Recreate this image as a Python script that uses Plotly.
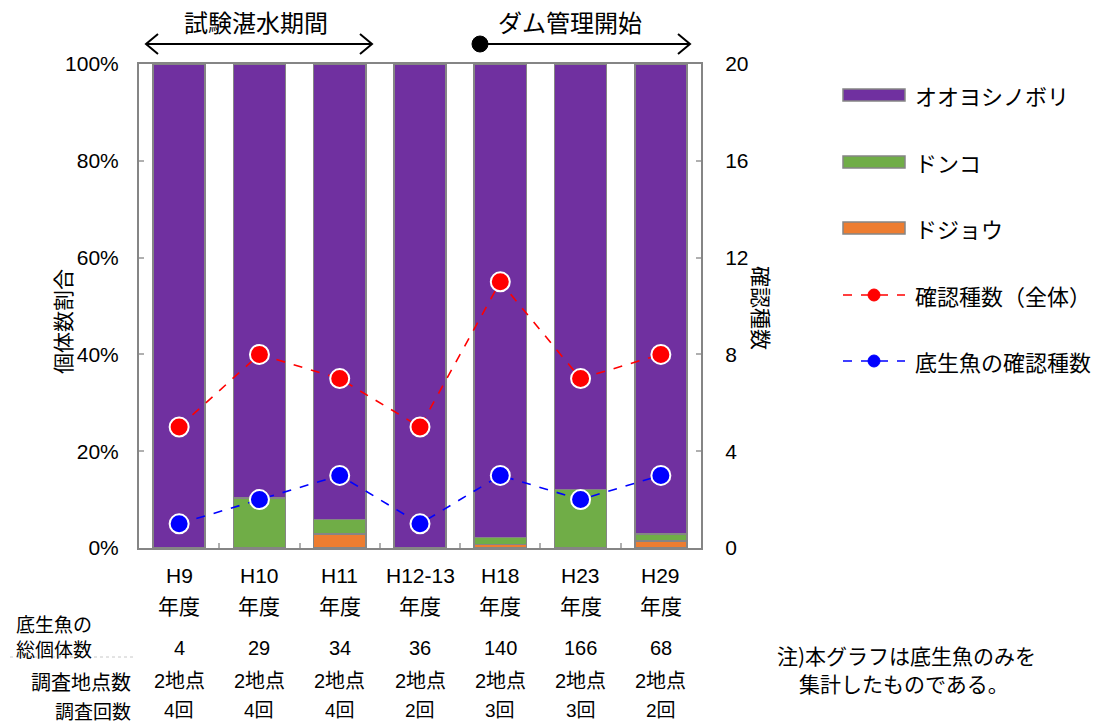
import plotly.graph_objects as go

# Survey years and bottom-fish composition (percent of individuals)
years = ["H9", "H10", "H11", "H12-13", "H18", "H23", "H29"]
dojou = [0.0, 0.0, 2.94, 0.0, 0.71, 0.0, 1.47]          # ドジョウ
donko = [0.0, 10.34, 2.94, 0.0, 1.43, 12.05, 1.47]      # ドンコ
ooyoshinobori = [100.0, 89.66, 94.12, 100.0, 97.86, 87.95, 97.06]  # オオヨシノボリ

# Number of species confirmed
species_all = [5, 8, 7, 5, 11, 7, 8]
species_bottom = [1, 2, 3, 1, 3, 2, 3]

# Table below the chart
total_counts = ["4", "29", "34", "36", "140", "166", "68"]
sites = ["2地点"] * 7
surveys = ["4回", "4回", "4回", "2回", "3回", "3回", "2回"]

legend_names = ["オオヨシノボリ", "ドンコ", "ドジョウ", "確認種数（全体）", "底生魚の確認種数"]

PURPLE = "#7030A0"
GREEN = "#70AD47"
ORANGE = "#ED7D31"
EDGE = "#858585"
NUM_FONT = "Liberation Sans Narrow, Liberation Sans, Noto Sans CJK JP"
JP_FONT = "Noto Sans CJK JP"

# Plot-area geometry in pixels (used to place the surrounding decorations)
W, H = 1110, 723
L, R, T, B = 139, 701, 64, 548


def px(x):
    return (x - L) / (R - L)


def py(y):
    return (B - y) / (B - T)


def label(x, y, text, size=20, family=JP_FONT, xanchor="center", xref="paper", angle=0):
    return dict(x=x, y=py(y), xref=xref, yref="paper", text=text, showarrow=False,
                xanchor=xanchor, yanchor="middle", textangle=angle,
                font=dict(family=family, size=size, color="black"))


fig = go.Figure()

for vals, color in [(dojou, ORANGE), (donko, GREEN), (ooyoshinobori, PURPLE)]:
    fig.add_trace(go.Bar(
        x=years, y=vals, marker=dict(color=color, line=dict(color=EDGE, width=1.5)),
        showlegend=False, hoverinfo="skip",
    ))

for vals, color in [(species_all, "#FF0000"), (species_bottom, "#0000FF")]:
    fig.add_trace(go.Scatter(
        x=years, y=vals, yaxis="y2", mode="lines+markers",
        line=dict(color=color, width=1.6, dash="dash"),
        marker=dict(color=color, size=19, line=dict(color="white", width=2)),
        showlegend=False, hoverinfo="skip",
    ))

annotations = []
shapes = []

# Category labels and the table rows beneath
for i, yr in enumerate(years):
    annotations.append(label(yr, 575, yr, size=21, family=NUM_FONT, xref="x"))
    annotations.append(label(yr, 605, "年度", size=21, xref="x"))
    annotations.append(label(yr, 648, total_counts[i], size=20, family=NUM_FONT, xref="x"))
    annotations.append(label(yr, 681, sites[i], size=20, family=NUM_FONT, xref="x"))
    annotations.append(label(yr, 710, surveys[i], size=19, family=NUM_FONT, xref="x"))

annotations.append(label(px(14), 636, "底生魚の<br>総個体数", size=19, xanchor="left"))
annotations.append(label(px(133), 681, "調査地点数", size=20, xanchor="right"))
annotations.append(label(px(133), 710, "調査回数", size=19, xanchor="right"))

# Faint dotted rule under the first table row label
shapes.append(dict(type="line", xref="paper", yref="paper", x0=px(10), x1=px(135),
                   y0=py(657), y1=py(657), line=dict(color="#c8c8c8", width=1, dash="dot")))

# Note on the right
annotations.append(label(px(775), 655, "注)本グラフは底生魚のみを", size=21, xanchor="left"))
annotations.append(label(px(797), 683, "集計したものである。", size=21, xanchor="left"))

# Axis titles
annotations.append(label(px(62), 322, "個体数割合", size=21, angle=-90))
annotations.append(label(px(762), 308, "確認種数", size=21, angle=90))

# Period headers with arrows
annotations.append(label(px(256), 22, "試験湛水期間", size=24))
annotations.append(label(px(570), 22, "ダム管理開始", size=24))

ay = 44
line_style = dict(color="black", width=2)
shapes.append(dict(type="line", xref="paper", yref="paper", x0=px(147), x1=px(371), y0=py(ay), y1=py(ay), line=line_style))
for tip, back in [(146, 158), (372, 360), (690, 678)]:
    shapes.append(dict(type="path", xref="paper", yref="paper", line=line_style,
                       path=f"M{px(back)},{py(ay - 10)} L{px(tip)},{py(ay)} L{px(back)},{py(ay + 10)}"))
shapes.append(dict(type="line", xref="paper", yref="paper", x0=px(480), x1=px(689), y0=py(ay), y1=py(ay), line=line_style))
shapes.append(dict(type="circle", xref="paper", yref="paper", x0=px(472), x1=px(488),
                   y0=py(ay + 8), y1=py(ay - 8), fillcolor="black", line=dict(color="black", width=1)))

# Legend
leg_y = [95, 162, 228, 295, 361]
for (color, y) in zip([PURPLE, GREEN, ORANGE], leg_y[:3]):
    shapes.append(dict(type="rect", xref="paper", yref="paper", x0=px(843), x1=px(905),
                       y0=py(y + 6), y1=py(y - 6), fillcolor=color, line=dict(color=EDGE, width=1.5)))
for (color, y) in zip(["#FF0000", "#0000FF"], leg_y[3:]):
    shapes.append(dict(type="line", xref="paper", yref="paper", x0=px(843), x1=px(905),
                       y0=py(y), y1=py(y), line=dict(color=color, width=1.5, dash="dash")))
    shapes.append(dict(type="circle", xref="paper", yref="paper", x0=px(868), x1=px(880),
                       y0=py(y + 6), y1=py(y - 6), fillcolor=color, line=dict(color=color, width=1)))
for name, y in zip(legend_names, leg_y):
    annotations.append(label(px(913), y, name, size=22, xanchor="left"))

axis_common = dict(showgrid=False, zeroline=False, showline=True, linecolor=EDGE, linewidth=2,
                   ticks="inside", ticklen=5, tickcolor="#b0b0b0", tickwidth=1.5)

fig.update_layout(
    width=W, height=H,
    margin=dict(l=L, r=W - R, t=T, b=H - B),
    paper_bgcolor="white", plot_bgcolor="white",
    barmode="stack", bargap=0.35,
    showlegend=False,
    xaxis=dict(**axis_common, type="category", showticklabels=False, tickson="boundaries",
               mirror=True, range=[-0.5, 6.5]),
    yaxis=dict(**axis_common, range=[0, 100], tickvals=[0, 20, 40, 60, 80, 100],
               ticktext=["0%", "20%", "40%", "60%", "80%", "100%"], mirror=True,
               ticklabelstandoff=14, tickfont=dict(family=NUM_FONT, size=21, color="black")),
    yaxis2=dict(**axis_common, overlaying="y", side="right", range=[0, 20],
                tickvals=[0, 4, 8, 12, 16, 20], ticklabelstandoff=18,
                tickfont=dict(family=NUM_FONT, size=21, color="black")),
    annotations=annotations,
    shapes=shapes,
)

fig.write_html("out.html")
